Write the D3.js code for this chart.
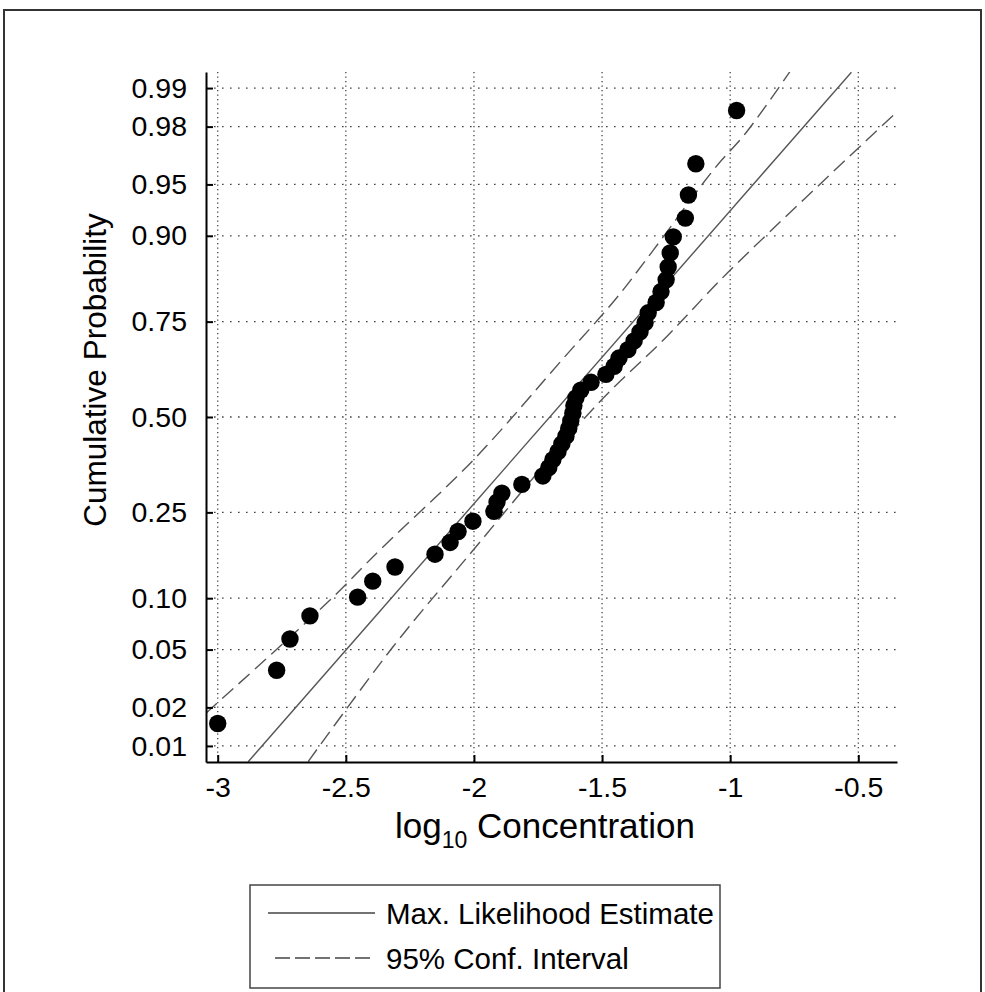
<!DOCTYPE html>
<html>
<head>
<meta charset="utf-8">
<title>Cumulative probability plot</title>
<script src="https://cdn.jsdelivr.net/npm/d3@7"></script>
<style>
    body { margin: 0; background: #fff; }
    svg text { font-family: "Liberation Sans", Arial, sans-serif; fill: #000; }
</style>
</head>
<body>
<svg id="chart"></svg>
<script>
const concentration = [
    -3.000, -2.770, -2.718, -2.640, -2.454, -2.395, -2.308, -2.152, -2.093, -2.062,
    -2.004, -1.922, -1.910, -1.891, -1.813, -1.731, -1.708, -1.692, -1.672, -1.657,
    -1.641, -1.630, -1.622, -1.614, -1.610, -1.602, -1.583, -1.543, -1.485, -1.453,
    -1.434, -1.399, -1.375, -1.352, -1.332, -1.320, -1.289, -1.270, -1.250, -1.242,
    -1.234, -1.222, -1.175, -1.163, -1.134, -0.975
];
// plotting positions of the observations
const cumProb = [
    0.01509, 0.03664, 0.05819, 0.07974, 0.10129, 0.12284, 0.14440, 0.16595, 0.18750, 0.20905,
    0.23060, 0.25216, 0.27371, 0.29526, 0.31681, 0.33836, 0.35991, 0.38147, 0.40302, 0.42457,
    0.44612, 0.46767, 0.48922, 0.51078, 0.53233, 0.55388, 0.57543, 0.59698, 0.61853, 0.64009,
    0.66164, 0.68319, 0.70474, 0.72629, 0.74784, 0.76940, 0.79095, 0.81250, 0.83405, 0.85560,
    0.87716, 0.89871, 0.92026, 0.94181, 0.96336, 0.98491
];

// fitted line and confidence band, [log10 conc, probability]
const mleLine = [[-2.881, 0.00738], [-0.527, 0.99262]];
const upperBand = [
    [-3.046, 0.0181], [-2.568, 0.0959], [-2.367, 0.1736], [-1.996, 0.385], [-1.651, 0.661],
    [-1.450, 0.796], [-1.300, 0.881], [-1.066, 0.9596], [-0.936, 0.9781], [-0.767, 0.9927]
];
const lowerBand = [
    [-2.647, 0.0074], [-2.315, 0.0523], [-2.035, 0.1561], [-1.521, 0.534],
    [-1.248, 0.715], [-1.013, 0.845], [-0.350, 0.9845]
];

const xTicks = [-3, -2.5, -2, -1.5, -1, -0.5];
const yTicks = [0.01, 0.02, 0.05, 0.10, 0.25, 0.50, 0.75, 0.90, 0.95, 0.98, 0.99];
const yTickLabels = ["0.01", "0.02", "0.05", "0.10", "0.25", "0.50", "0.75", "0.90", "0.95", "0.98", "0.99"];

const legendItems = ["Max. Likelihood Estimate", "95% Conf. Interval"];

// inverse of the standard normal cdf (Acklam)
function probit(p) {
    const a = [-3.969683028665376e+01, 2.209460984245205e+02, -2.759285104469687e+02, 1.383577518672690e+02, -3.066479806614716e+01, 2.506628277459239e+00];
    const b = [-5.447609879822406e+01, 1.615858368580409e+02, -1.556989798598866e+02, 6.680131188771972e+01, -1.328068155288572e+01];
    const c = [-7.784894002430293e-03, -3.223964580411365e-01, -2.400758277161838e+00, -2.549732539343734e+00, 4.374664141464968e+00, 2.938163982698783e+00];
    const d = [7.784695709041462e-03, 3.224671290700398e-01, 2.445134137142996e+00, 3.754408661907416e+00];
    const pl = 0.02425;
    let q, r;
    if (p < pl) {
        q = Math.sqrt(-2 * Math.log(p));
        return (((((c[0]*q+c[1])*q+c[2])*q+c[3])*q+c[4])*q+c[5]) / ((((d[0]*q+d[1])*q+d[2])*q+d[3])*q+1);
    }
    if (p > 1 - pl) {
        q = Math.sqrt(-2 * Math.log(1 - p));
        return -(((((c[0]*q+c[1])*q+c[2])*q+c[3])*q+c[4])*q+c[5]) / ((((d[0]*q+d[1])*q+d[2])*q+d[3])*q+1);
    }
    q = p - 0.5; r = q * q;
    return (((((a[0]*r+a[1])*r+a[2])*r+a[3])*r+a[4])*r+a[5])*q / (((((b[0]*r+b[1])*r+b[2])*r+b[3])*r+b[4])*r+1);
}

const width = 985, height = 992;
const plot = { left: 206, right: 897, top: 72, bottom: 762 };

const svg = d3.select("#chart")
    .attr("width", width)
    .attr("height", height);

// outer frame
svg.append("rect")
    .attr("x", 4).attr("y", 10)
    .attr("width", 977).attr("height", 1000)
    .attr("fill", "none")
    .attr("stroke", "#333")
    .attr("stroke-width", 2);

const x = d3.scaleLinear().domain([-3.0457, -0.349]).range([plot.left, plot.right]);
const zScale = d3.scaleLinear().domain([-2.44, 2.44]).range([plot.bottom, plot.top]);
const y = p => zScale(probit(p));

svg.append("clipPath").attr("id", "plotClip")
    .append("rect")
    .attr("x", plot.left).attr("y", plot.top)
    .attr("width", plot.right - plot.left)
    .attr("height", plot.bottom - plot.top);

// grid
const grid = svg.append("g");
grid.selectAll("line.vgrid")
    .data(xTicks)
    .enter().append("line")
    .attr("class", "vgrid")
    .attr("x1", d => x(d)).attr("x2", d => x(d))
    .attr("y1", plot.top).attr("y2", plot.bottom)
    .attr("stroke", "#444")
    .attr("stroke-width", 1.3)
    .attr("stroke-dasharray", "1.3,3.2");
grid.selectAll("line.hgrid")
    .data(yTicks)
    .enter().append("line")
    .attr("class", "hgrid")
    .attr("x1", plot.left).attr("x2", plot.right)
    .attr("y1", d => y(d)).attr("y2", d => y(d))
    .attr("stroke", "#444")
    .attr("stroke-width", 1.3)
    .attr("stroke-dasharray", "1.6,6.4");

// fitted line and bands
const lines = svg.append("g").attr("clip-path", "url(#plotClip)");
const lineGen = d3.line()
    .x(d => x(d[0]))
    .y(d => y(d[1]));

lines.append("path")
    .attr("d", lineGen(mleLine))
    .attr("fill", "none")
    .attr("stroke", "#555")
    .attr("stroke-width", 1.4);

const bandGen = d3.line()
    .x(d => x(d[0]))
    .y(d => y(d[1]))
    .curve(d3.curveCatmullRom);

[upperBand, lowerBand].forEach(band => {
    lines.append("path")
        .attr("d", bandGen(band))
        .attr("fill", "none")
        .attr("stroke", "#555")
        .attr("stroke-width", 1.4)
        .attr("stroke-dasharray", "15,7");
});

// observations
svg.append("g")
    .selectAll("circle")
    .data(concentration)
    .enter().append("circle")
    .attr("cx", d => x(d))
    .attr("cy", (d, i) => y(cumProb[i]))
    .attr("r", 8.7)
    .attr("fill", "#000");

// axes
const xAxis = d3.axisBottom(x)
    .tickValues(xTicks)
    .tickFormat(d => String(d))
    .tickSizeInner(-7)
    .tickSizeOuter(0)
    .tickPadding(15);

const yAxis = d3.axisLeft(zScale)
    .tickValues(yTicks.map(probit))
    .tickFormat((d, i) => yTickLabels[i])
    .tickSizeInner(-7)
    .tickSizeOuter(0)
    .tickPadding(19);

const gx = svg.append("g")
    .attr("transform", `translate(0,${plot.bottom})`)
    .call(xAxis);
const gy = svg.append("g")
    .attr("transform", `translate(${plot.left},0)`)
    .call(yAxis);

[gx, gy].forEach(g => {
    g.selectAll("path, line").attr("stroke", "#000").attr("stroke-width", 2);
    g.selectAll("text")
        .attr("font-size", 28.5)
        .attr("font-family", "'Liberation Sans', Arial, sans-serif");
});

// axis titles
const xTitle = svg.append("text")
    .attr("x", 545)
    .attr("y", 838)
    .attr("text-anchor", "middle")
    .attr("font-size", 35);
xTitle.append("tspan").text("log");
xTitle.append("tspan").attr("font-size", 23).attr("dy", 10).text("10");
xTitle.append("tspan").attr("dy", -10).text(" Concentration");

svg.append("text")
    .attr("transform", "translate(106,370) rotate(-90)")
    .attr("text-anchor", "middle")
    .attr("font-size", 31.5)
    .text("Cumulative Probability");

// legend
const legend = svg.append("g");
legend.append("rect")
    .attr("x", 250).attr("y", 885)
    .attr("width", 470).attr("height", 103)
    .attr("fill", "#fff")
    .attr("stroke", "#444")
    .attr("stroke-width", 1.5);

legendItems.forEach((label, i) => {
    const yy = 913 + i * 45;
    legend.append("line")
        .attr("x1", i === 0 ? 268 : 275).attr("x2", 375)
        .attr("y1", yy).attr("y2", yy)
        .attr("stroke", "#444")
        .attr("stroke-width", 1.5)
        .attr("stroke-dasharray", i === 0 ? null : "15,5");
    legend.append("text")
        .attr("x", 386)
        .attr("y", yy + 11)
        .attr("font-size", 29.5)
        .text(label);
});
</script>
</body>
</html>
